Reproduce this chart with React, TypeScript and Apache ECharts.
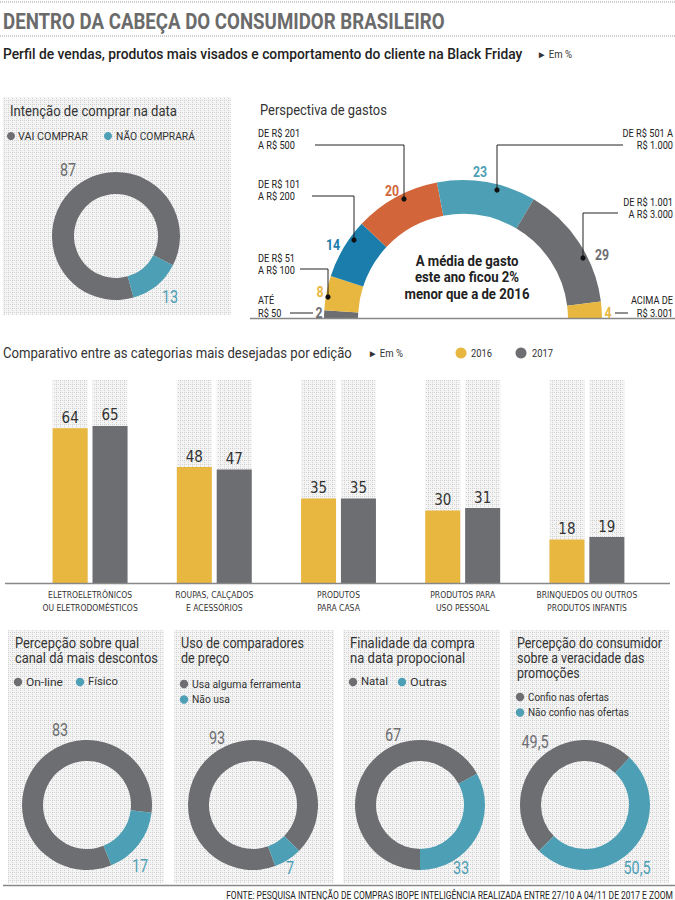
import React, { useEffect, useRef } from 'react';
import * as echarts from 'echarts';

// ---------- DATA ----------
const TITLE = 'DENTRO DA CABEÇA DO CONSUMIDOR BRASILEIRO';
const SUBTITLE = 'Perfil de vendas, produtos mais visados e comportamento do cliente na Black Friday';
const UNIT = '► Em %';

const intentTitle = 'Intenção de comprar na data';
const intentLabels = ['VAI COMPRAR', 'NÃO COMPRARÁ'];
const intentValues = [87, 13];

const spendTitle = 'Perspectiva de gastos';
const spendRanges = ['ATÉ\nR$ 50', 'DE R$ 51\nA R$ 100', 'DE R$ 101\nA R$ 200', 'DE R$ 201\nA R$ 500', 'DE R$ 501 A\nR$ 1.000', 'DE R$ 1.001\nA R$ 3.000', 'ACIMA DE\nR$ 3.001'];
const spendValues = [2, 8, 14, 20, 23, 29, 4];
const spendNote = 'A média de gasto\neste ano ficou 2%\nmenor que a de 2016';

const barTitle = 'Comparativo entre as categorias mais desejadas por edição';
const categories = ['ELETROELETRÔNICOS\nOU ELETRODOMÉSTICOS', 'ROUPAS, CALÇADOS\nE ACESSÓRIOS', 'PRODUTOS\nPARA CASA', 'PRODUTOS PARA\nUSO PESSOAL', 'BRINQUEDOS OU OUTROS\nPRODUTOS INFANTIS'];
const years = ['2016', '2017'];
const values2016 = [64, 48, 35, 30, 18];
const values2017 = [65, 47, 35, 31, 19];

const channelTitle = 'Percepção sobre qual\ncanal dá mais descontos';
const channelLabels = ['On-line', 'Físico'];
const channelValues = [83, 17];

const compareTitle = 'Uso de comparadores\nde preço';
const compareLabels = ['Usa alguma ferramenta', 'Não usa'];
const compareValues = [93, 7];

const purposeTitle = 'Finalidade da compra\nna data propocional';
const purposeLabels = ['Natal', 'Outras'];
const purposeValues = [67, 33];

const trustTitle = 'Percepção do consumidor\nsobre a veracidade das\npromoções';
const trustLabels = ['Confio nas ofertas', 'Não confio nas ofertas'];
const trustValues = [49.5, 50.5];

const SOURCE = 'FONTE: PESQUISA INTENÇÃO DE COMPRAS IBOPE INTELIGÊNCIA REALIZADA ENTRE 27/10 A 04/11 DE 2017 E ZOOM';

// ---------- STYLE ----------
const GRAY = '#6d6e71';
const TEAL = '#4d9fb5';
const YELLOW = '#e7b740';
const ORANGE = '#d2663a';
const BLUE = '#1b7dac';
const SPEND_COLORS = [GRAY, YELLOW, BLUE, ORANGE, TEAL, GRAY, YELLOW];
const NARROW = "'DejaVu Sans Condensed', 'Liberation Sans Narrow', Roboto, sans-serif";
const SANS = "Roboto, 'Noto Sans', sans-serif";

const fmt = (v: number) => String(v).replace('.', ',');

function makePattern() {
  const c = document.createElement('canvas');
  c.width = 4;
  c.height = 4;
  const ctx = c.getContext('2d')!;
  ctx.fillStyle = '#f4f4f4';
  ctx.fillRect(0, 0, 4, 4);
  ctx.fillStyle = '#d0d0d0';
  ctx.fillRect(0, 0, 1, 1);
  ctx.fillRect(2, 0, 1, 1);
  ctx.fillRect(0, 2, 1, 1);
  return { image: c, repeat: 'repeat', imageWidth: 4, imageHeight: 4 } as any;
}

const mctx = document.createElement('canvas').getContext('2d')!;
function measure(text: string, size: number, family: string, weight: any) {
  mctx.font = `${weight} ${size}px ${family}`;
  return Math.max(...text.split('\n').map((l) => mctx.measureText(l).width));
}

function txt(text: string, x: number, y: number, o: any = {}) {
  const size = o.size || 12;
  const family = o.family || SANS;
  const weight = o.weight || 'normal';
  let sx = o.sx || 1;
  if (o.w) sx = o.w / measure(text, size, family, weight);
  return {
    type: 'text',
    x,
    y,
    scaleX: sx,
    z: 100,
    silent: true,
    style: {
      text,
      fill: o.fill || '#333',
      fontSize: size,
      fontFamily: family,
      fontWeight: weight,
      textAlign: o.align || 'left',
      align: o.align || 'left',
      textVerticalAlign: 'middle',
      verticalAlign: 'middle',
      lineHeight: o.lh || Math.round(size * 1.2),
    },
  };
}
function dot(cx: number, cy: number, r: number, fill: string) {
  return { type: 'circle', z: 100, silent: true, shape: { cx, cy, r }, style: { fill } };
}
function leader(points: number[][]) {
  const end = points[points.length - 1];
  return [
    { type: 'polyline', z: 100, silent: true, shape: { points }, style: { stroke: '#222', lineWidth: 1, fill: null } },
    dot(end[0], end[1], 2.6, '#111'),
  ];
}
function hline(x1: number, x2: number, y: number, stroke: string, lineWidth: number, dash?: number[]) {
  return { type: 'line', z: 90, silent: true, shape: { x1, y1: y, x2, y2: y }, style: { stroke, lineWidth, lineDash: dash } };
}

function donut(center: number[], radius: number[], startAngle: number, labels: string[], values: number[]) {
  return {
    type: 'pie',
    silent: true,
    center,
    radius,
    startAngle,
    clockwise: true,
    z: 5,
    label: { show: false },
    labelLine: { show: false },
    itemStyle: { borderWidth: 0 },
    data: values.map((v, i) => ({ name: labels[i], value: v, itemStyle: { color: i === 0 ? GRAY : TEAL } })),
  };
}

export default function App() {
  const ref = useRef<HTMLDivElement>(null);
  useEffect(() => {
    const el = ref.current!;
    const chart = echarts.init(el, null, { renderer: 'svg', width: 675, height: 900 });
    const pat = makePattern();
    const g: any[] = [];
    const NUM = { size: 18, sx: 0.8, align: 'center' };

    // header
    g.push(hline(0, 675, 2, '#9a9a9a', 1, [1, 1]));
    g.push(txt(TITLE, 3, 21, { size: 22, weight: 'bold', fill: '#6b6b6b', w: 442 }));
    g.push(hline(0, 675, 36, '#9a9a9a', 1, [1, 1]));
    g.push(txt(SUBTITLE, 3, 54, { size: 14, weight: 500, fill: '#222', w: 520 }));
    g.push(txt(UNIT, 537, 54, { size: 10, w: 35 }));

    // top-left panel
    g.push({ type: 'rect', z: 0, silent: true, shape: { x: 3, y: 97, width: 228, height: 218 }, style: { fill: pat } });
    g.push(txt(intentTitle, 10, 111, { size: 15, w: 167 }));
    g.push(dot(11, 136, 4, GRAY));
    g.push(txt(intentLabels[0], 18, 136, { size: 11.5, w: 70 }));
    g.push(dot(108, 136, 4, TEAL));
    g.push(txt(intentLabels[1], 116, 136, { size: 11.5, w: 79 }));
    g.push(txt(fmt(intentValues[0]), 68, 170, { ...NUM, fill: GRAY }));
    g.push(txt(fmt(intentValues[1]), 170, 297, { ...NUM, fill: TEAL }));

    // perspectiva de gastos
    g.push(txt(spendTitle, 260, 110, { size: 15, w: 127 }));
    const lab = { size: 11.5, sx: 0.8, lh: 12.5, fill: '#222' };
    g.push(txt(spendRanges[3], 258, 139, lab));
    g.push(...leader([[315, 145], [404, 145], [404, 199]]));
    g.push(txt(spendRanges[2], 258, 190, lab));
    g.push(...leader([[312, 196], [354, 196], [354, 240]]));
    g.push(txt(spendRanges[1], 258, 264, lab));
    g.push(...leader([[300, 269], [328, 269], [328, 297]]));
    g.push(txt(spendRanges[0], 258, 306.5, lab));
    g.push({ type: 'polyline', z: 100, silent: true, shape: { points: [[290, 313], [313, 313]] }, style: { stroke: '#222', lineWidth: 1, fill: null } });
    g.push(txt(spendRanges[4], 673, 139, { ...lab, align: 'right' }));
    g.push(...leader([[623, 145], [497, 145], [497, 190]]));
    g.push(txt(spendRanges[5], 673, 208, { ...lab, align: 'right' }));
    g.push(...leader([[618, 213], [583, 213], [583, 258]]));
    g.push(txt(spendRanges[6], 673, 306.5, { ...lab, align: 'right' }));
    g.push({ type: 'polyline', z: 100, silent: true, shape: { points: [[615, 313], [628, 313]] }, style: { stroke: '#222', lineWidth: 1, fill: null } });
    const spendPos = [[319, 313], [320, 292], [333, 245], [392, 191], [480, 172], [602, 255], [608, 313]];
    spendValues.forEach((v, i) => {
      g.push(txt(fmt(v), spendPos[i][0], spendPos[i][1], { size: 15, sx: 0.82, weight: 'bold', fill: SPEND_COLORS[i], align: 'center' }));
    });
    g.push(txt(spendNote, 467, 277, { size: 14.5, weight: 'bold', fill: '#222', align: 'center', lh: 16.5, w: 125 }));
    g.push(hline(250, 675, 318.5, '#888', 1.5));

    // bar section
    g.push(txt(barTitle, 3, 353, { size: 15, w: 349 }));
    g.push(txt(UNIT, 368, 353, { size: 10, w: 35 }));
    g.push(dot(461, 353, 5.5, YELLOW));
    g.push(txt(years[0], 471, 353, { size: 10, w: 21 }));
    g.push(dot(521, 353, 5.5, GRAY));
    g.push(txt(years[1], 532, 353, { size: 10, w: 21 }));
    g.push(hline(5, 670, 583.5, '#888', 1.5));

    // bottom panels
    const panels = [
      { x: 8, w: 156, tw: 143, title: channelTitle, labels: channelLabels, values: channelValues, inline: true, gap: 62, lw: [37, 30] },
      { x: 174, w: 160, tw: 123, title: compareTitle, labels: compareLabels, values: compareValues, inline: false, gap: 0, lw: [109, 38] },
      { x: 343, w: 157, tw: 125, title: purposeTitle, labels: purposeLabels, values: purposeValues, inline: true, gap: 49, lw: [27, 37] },
      { x: 510, w: 159, tw: 145, title: trustTitle, labels: trustLabels, values: trustValues, inline: false, gap: 0, lw: [81, 101] },
    ];
    const valuePos = [
      [[60, 730], [140, 866]],
      [[217, 738], [290, 868]],
      [[393, 735], [461, 868]],
      [[535, 742], [637, 868]],
    ];
    panels.forEach((p, k) => {
      g.push({ type: 'rect', z: 0, silent: true, shape: { x: p.x, y: 630, width: p.w, height: 253 }, style: { fill: pat } });
      const lines = p.title.split('\n').length;
      g.push(txt(p.title, p.x + 7, 643 + (lines - 1) * 7.5, { size: 15, lh: 15, w: p.tw }));
      const legendY = lines === 3 ? 697 : p.inline ? 682 : 684;
      p.labels.forEach((l, i) => {
        const lx = p.x + 10 + (p.inline ? i * p.gap : 0);
        const yy = legendY + (p.inline ? 0 : i * 15.5);
        g.push(dot(lx, yy, 4.2, i === 0 ? GRAY : TEAL));
        g.push(txt(l, lx + 8, yy, { size: 11, w: p.lw[i] }));
      });
      g.push(txt(fmt(p.values[0]), valuePos[k][0][0], valuePos[k][0][1], { ...NUM, fill: GRAY }));
      g.push(txt(fmt(p.values[1]), valuePos[k][1][0], valuePos[k][1][1], { ...NUM, fill: TEAL }));
    });

    // footer
    g.push(hline(3, 675, 885.5, '#888', 1.5));
    g.push(txt(SOURCE, 673, 895, { size: 11, align: 'right', w: 448, fill: '#222' }));

    const spendTotal = spendValues.reduce((a, b) => a + b, 0);
    const barLabel = { show: true, position: 'top', distance: 3, fontSize: 15, color: '#333', fontFamily: NARROW };

    const option: any = {
      animation: false,
      backgroundColor: '#fff',
      grid: { left: 28, top: 380, width: 621, height: 203, containLabel: false },
      xAxis: {
        type: 'category',
        data: categories,
        axisLine: { show: false },
        axisTick: { show: false },
        axisLabel: { interval: 0, fontSize: 8.5, fontFamily: NARROW, color: '#333', lineHeight: 12.5, margin: 6 },
      },
      yAxis: { type: 'value', min: 0, max: 84, show: false, splitLine: { show: false } },
      series: [
        {
          type: 'bar',
          name: years[0],
          data: values2016,
          barWidth: 35,
          barGap: '14%',
          silent: true,
          itemStyle: { color: YELLOW },
          showBackground: true,
          backgroundStyle: { color: pat },
          label: barLabel,
        },
        {
          type: 'bar',
          name: years[1],
          data: values2017,
          barWidth: 35,
          barGap: '14%',
          silent: true,
          itemStyle: { color: GRAY },
          showBackground: true,
          backgroundStyle: { color: pat },
          label: barLabel,
        },
        donut([116, 236], [42, 64], 286, intentLabels, intentValues),
        {
          type: 'pie',
          silent: true,
          center: [463, 319],
          radius: [105, 139],
          startAngle: 180,
          clockwise: true,
          z: 5,
          label: { show: false },
          labelLine: { show: false },
          itemStyle: { borderWidth: 0 },
          data: [
            ...spendValues.map((v, i) => ({ name: spendRanges[i].replace('\n', ' '), value: v, itemStyle: { color: SPEND_COLORS[i] } })),
            { name: 'filler', value: spendTotal, itemStyle: { color: 'rgba(0,0,0,0)' } },
          ],
        },
        donut([87, 805], [44, 65], 292, channelLabels, channelValues),
        donut([253, 805], [44, 65], 290, compareLabels, compareValues),
        donut([420, 805], [44, 65], 270, purposeLabels, purposeValues),
        donut([585, 805], [44, 65], 225, trustLabels, trustValues),
      ],
      graphic: { elements: g },
    };
    chart.setOption(option);
    return () => chart.dispose();
  }, []);
  return <div ref={ref} style={{ position: 'absolute', left: 0, top: 0, width: 675, height: 900, background: '#fff' }} />;
}
